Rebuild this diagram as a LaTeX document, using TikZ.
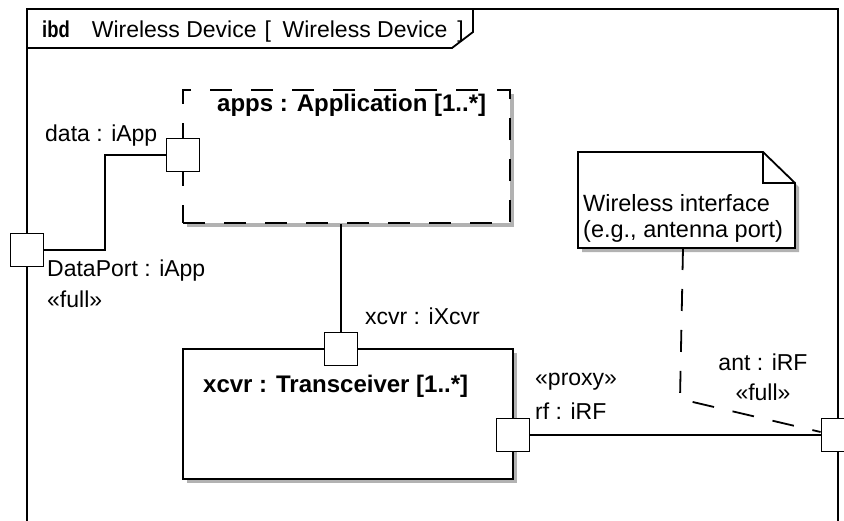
\documentclass[tikz,border=0pt]{standalone}
\usepackage{fontspec}
\setmainfont{Liberation Sans}
\usetikzlibrary{shadows,calc}
\begin{document}
\begin{tikzpicture}[x=1pt,y=-1pt,
  every node/.style={font=\fontsize{23}{27}\selectfont},
  ln/.style={line width=1.8pt},
  port/.style={draw, line width=1.8pt, fill=white, minimum width=33pt, minimum height=33pt, inner sep=0pt},
  part/.style={draw, line width=1.8pt, fill=white, inner sep=0pt,
    drop shadow={shadow xshift=4pt, shadow yshift=-4pt, fill=black!30, opacity=1}},
  lbl/.style={anchor=base west, inner sep=0pt},
  clbl/.style={anchor=base, inner sep=0pt},
  ttl/.style={anchor=base west, inner sep=0pt, font=\fontsize{24}{28}\selectfont\bfseries},
  dsh/.style={dash pattern=on 22pt off 19pt},
]
\useasboundingbox (0,0) rectangle (844,520);
\clip (0,0) rectangle (844,520);
\fill[white] (0,0) rectangle (844,520);

% frame
\draw[ln] (27,9) rectangle (838,560);
\draw[ln] (27,48) -- (452,48) -- (473,32) -- (473,9);
\node[lbl] (hdr) at (42,37) {\scalebox{0.8}[1]{\bfseries ibd}\hspace{22pt}Wireless Device\hspace{8pt}[\hspace{11.6pt}Wireless Device\hspace{10pt}]};

% parts
\node[part, dsh, minimum width=327pt, minimum height=133pt] (apps) at (346.5,156.5) {};
\node[ttl] (appsttl) at (217,111) {apps : Application [1..*]};
\node[part, minimum width=330pt, minimum height=130pt] (xcvr) at (348,414) {};
\node[ttl] (xcvrttl) at (203,392) {xcvr : Transceiver [1..*]};

% note
\fill[black!30] (582,156) -- (767,156) -- (799,187) -- (799,252) -- (582,252) -- cycle;
\filldraw[ln, fill=white] (578,152) -- (763,152) -- (795,183) -- (795,248) -- (578,248) -- cycle;
\draw[ln] (763,152) -- (763,183) -- (795,183);
\node[anchor=north west, inner sep=0pt, align=left, font=\fontsize{23.5}{26.5}\selectfont] (note) at (583,194) {Wireless interface\\(e.g., antenna port)};
\coordinate (noteb) at (683,248);
\coordinate (bend) at (680,399);

% ports
\node[port] (data) at (183,155) {};
\node[port] (dp) at (27,250) {};
\node[port] (xport) at (341,349) {};
\node[port] (rf) at (513,435) {};
\node[port] (ant) at (838,435) {};

% connectors
\draw[ln] (data.west) -- ++(-61,0) |- (dp.east);
\draw[ln] (xport.north) -- (xport.north |- apps.south);
\draw[ln] (rf.east) -- (ant.west);
\draw[ln, dsh] (noteb) -- (bend) -- ($(ant.west)+(0,-3)$);

% redraw ports on top
\node[port] at (data) {};
\node[port] at (dp) {};
\node[port] at (xport) {};
\node[port] at (rf) {};
\node[port] at (ant) {};

% labels
\node[lbl] (ldata) at (45,141) {data : iApp};
\node[lbl] (ldp) at (47,276) {DataPort : iApp};
\node[lbl] (ldpf) at (47,307) {«full»};
\node[lbl] (lx) at (365,324) {xcvr : iXcvr};
\node[lbl] (lproxy) at (535,385) {«proxy»};
\node[lbl] (lrf) at (535,419) {rf : iRF};
\node[clbl] (lant) at (763,370) {ant : iRF};
\node[clbl] (lantf) at (763,400) {«full»};
\end{tikzpicture}
\end{document}
